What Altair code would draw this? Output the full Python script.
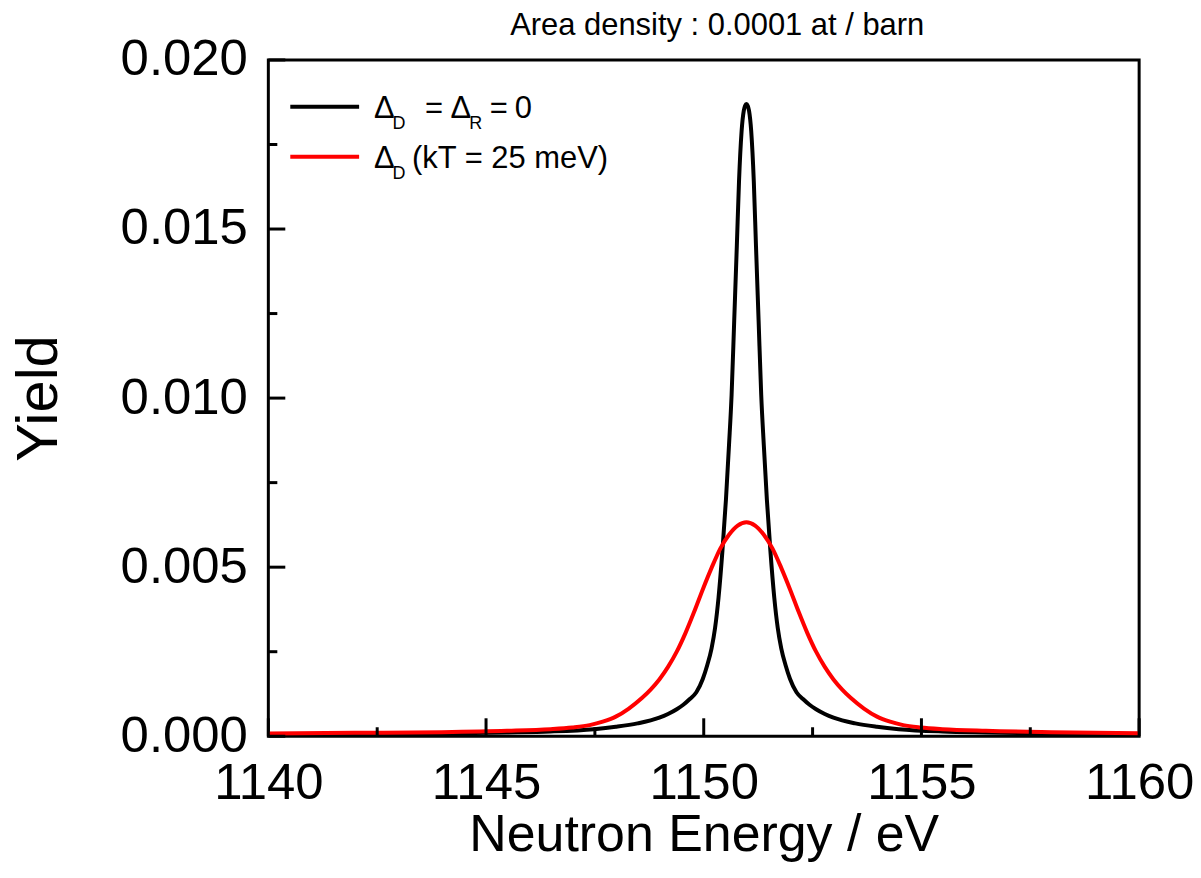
import altair as alt
import pandas as pd

FONT = "Liberation Sans"

# ---- data ----
black_energy = [1140.0, 1141.98, 1143.98, 1145.48, 1146.48, 1147.48, 1147.98, 1148.48, 1148.98, 1149.18,
                1149.38, 1149.53, 1149.68, 1149.83, 1149.98, 1150.08, 1150.18, 1150.26, 1150.34, 1150.43,
                1150.51, 1150.58, 1150.64, 1150.70, 1150.76, 1150.81, 1150.87, 1150.92, 1150.95, 1150.98,
                1151.01, 1151.04, 1151.09, 1151.15, 1151.20, 1151.26, 1151.32, 1151.38, 1151.45, 1151.53,
                1151.62, 1151.70, 1151.78, 1151.88, 1151.98, 1152.13, 1152.28, 1152.43, 1152.58, 1152.78,
                1152.98, 1153.48, 1153.98, 1154.48, 1155.48, 1156.48, 1157.98, 1160.0]
black_yield = [0.00004, 0.00006, 0.00008, 0.00011, 0.00014, 0.00021, 0.00028, 0.00038, 0.00055, 0.00066,
               0.0008, 0.00093, 0.0011, 0.0013, 0.0017, 0.0021, 0.0026, 0.0032, 0.0041, 0.0055,
               0.0070, 0.0086, 0.0101, 0.0123, 0.0145, 0.0164, 0.0179, 0.0185, 0.01865, 0.0187,
               0.01865, 0.0185, 0.0179, 0.0164, 0.0145, 0.0123, 0.0101, 0.0086, 0.0070, 0.0055,
               0.0041, 0.0032, 0.0026, 0.0021, 0.0017, 0.0013, 0.0011, 0.00093, 0.0008, 0.00066,
               0.00055, 0.00038, 0.00028, 0.00021, 0.00014, 0.00011, 0.00008, 0.00005]

red_energy = [1140.0, 1141.98, 1143.98, 1145.48, 1146.48, 1146.98, 1147.38, 1147.68, 1147.98, 1148.28,
              1148.58, 1148.78, 1148.98, 1149.18, 1149.38, 1149.58, 1149.78, 1149.98, 1150.18, 1150.38,
              1150.58, 1150.78, 1150.98, 1151.18, 1151.38, 1151.58, 1151.78, 1151.98, 1152.18, 1152.38,
              1152.58, 1152.78, 1152.98, 1153.18, 1153.38, 1153.68, 1153.98, 1154.28, 1154.58, 1154.98,
              1155.48, 1156.48, 1157.98, 1160.0]
red_yield = [0.00008, 0.00010, 0.00012, 0.00016, 0.00021, 0.00026, 0.00033, 0.00043, 0.00058, 0.00082,
             0.00113, 0.00138, 0.00168, 0.00205, 0.00250, 0.00305, 0.00368, 0.00435, 0.00498, 0.00555,
             0.00596, 0.00623, 0.00633, 0.00623, 0.00596, 0.00555, 0.00498, 0.00435, 0.00368, 0.00305,
             0.00250, 0.00205, 0.00168, 0.00138, 0.00113, 0.00082, 0.00058, 0.00043, 0.00033, 0.00026,
             0.00021, 0.00016, 0.00012, 0.00009]

x_major = [1140, 1145, 1150, 1155, 1160]
x_minor = [1142.5, 1147.5, 1152.5, 1157.5]
y_major = [0.0, 0.005, 0.010, 0.015, 0.020]
y_minor = [0.0025, 0.0075, 0.0125, 0.0175]

title_text = "Area density : 0.0001 at / barn"
x_title = "Neutron Energy / eV"
y_title = "Yield"

W, H = 873, 678

x_scale = alt.Scale(domain=[1140, 1160], nice=False, zero=False)
y_scale = alt.Scale(domain=[0, 0.02], nice=False, zero=False)

black_df = pd.DataFrame({"E": black_energy, "Y": black_yield})
red_df = pd.DataFrame({"E": red_energy, "Y": red_yield})

x_axis = alt.Axis(values=x_major, format="d", labelFont=FONT, labelFontSize=51, labelColor="black",
                  labelPadding=22, ticks=False, tickSize=0, domain=False, grid=False,
                  labelFlush=False, labelOverlap=False,
                  title=x_title, titleFont=FONT, titleFontSize=52, titleFontWeight="normal",
                  titleColor="black", titleX=W / 2, titleY=115, titleBaseline="alphabetic",
                  titleAlign="center")
y_axis = alt.Axis(values=y_major, format=".3f", labelFont=FONT, labelFontSize=51, labelColor="black",
                  labelPadding=21, ticks=False, tickSize=0, domain=False, grid=False,
                  labelFlush=False, labelOverlap=False,
                  title=y_title, titleFont=FONT, titleFontSize=58, titleFontWeight="normal",
                  titleColor="black", titleAngle=270, titleX=-229, titleY=H / 2,
                  titleBaseline="middle", titleAlign="center")

black_line = alt.Chart(black_df).mark_line(color="black", strokeWidth=4, interpolate="monotone").encode(
    x=alt.X("E:Q", scale=x_scale, axis=x_axis),
    y=alt.Y("Y:Q", scale=y_scale, axis=y_axis),
)
red_line = alt.Chart(red_df).mark_line(color="#ff0000", strokeWidth=4, interpolate="monotone").encode(
    x=alt.X("E:Q", scale=x_scale, axis=x_axis),
    y=alt.Y("Y:Q", scale=y_scale, axis=y_axis),
)


def xticks(vals, length):
    return alt.Chart(pd.DataFrame({"E": vals})).mark_rule(color="black", strokeWidth=3).encode(
        x=alt.X("E:Q", scale=x_scale, axis=x_axis), y=alt.value(H), y2=alt.value(H - length))


def yticks(vals, length):
    return alt.Chart(pd.DataFrame({"Y": vals})).mark_rule(color="black", strokeWidth=3).encode(
        y=alt.Y("Y:Q", scale=y_scale, axis=y_axis), x=alt.value(0), x2=alt.value(length))


def label(text, x, y, size, align="left"):
    return alt.Chart(pd.DataFrame({"t": [text]})).mark_text(
        font=FONT, fontSize=size, color="black", align=align, baseline="alphabetic").encode(
        text="t:N", x=alt.value(x), y=alt.value(y))


def legend_line(color, y):
    return alt.Chart(pd.DataFrame({"k": [0]})).mark_rule(color=color, strokeWidth=4).encode(
        x=alt.value(22), x2=alt.value(91), y=alt.value(y))


MAIN, SUB = 31, 18
legend = [
    legend_line("black", 47),
    legend_line("#ff0000", 97),
    label("Δ", 106, 58, MAIN), label("D", 124.5, 69, SUB), label("=", 157, 58, MAIN),
    label("Δ", 182.5, 58, MAIN), label("R", 201.5, 69, SUB), label("=", 222, 58, MAIN),
    label("0", 247, 58, MAIN),
    label("Δ", 106, 108, MAIN), label("D", 124.5, 119, SUB), label("(kT = 25 meV)", 144, 108, MAIN),
]

chart = alt.layer(
    black_line, red_line,
    xticks(x_major, 18), xticks(x_minor, 9), yticks(y_major, 17), yticks(y_minor, 9),
    label(title_text, 450, -25, 31, align="center"),
    *legend,
).properties(
    width=W, height=H,
    autosize=alt.AutoSizeParams(type="none"),
    padding={"left": 261, "top": 51, "right": 54, "bottom": 127},
).configure(background="white").configure_view(stroke="black", strokeWidth=3)

chart.save("out.html", embed_options={"renderer": "svg", "actions": False})
